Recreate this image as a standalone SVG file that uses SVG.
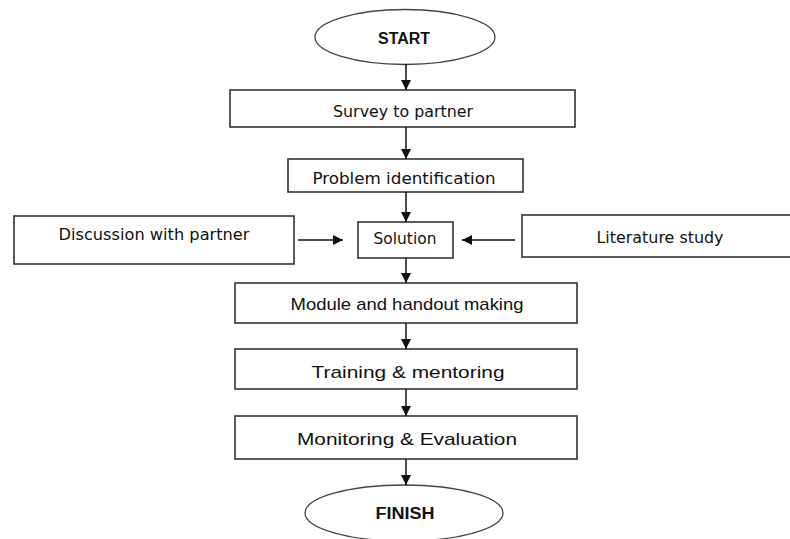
<svg xmlns="http://www.w3.org/2000/svg" width="790" height="539" viewBox="0 0 790 539">
<style>
.box{fill:#fff;stroke:#333;stroke-width:1.6}
.term{fill:#fff;stroke:#444;stroke-width:1.3}
.t1{font-family:"DejaVu Sans Condensed","DejaVu Sans",Verdana,sans-serif;font-size:15px;fill:#111;text-anchor:middle}
.t2{font-family:"Liberation Sans",Arial,sans-serif;font-size:17px;fill:#111;text-anchor:middle}
.tb{font-family:"Liberation Sans",Arial,sans-serif;font-size:16px;font-weight:bold;fill:#111;text-anchor:middle}
.conn{stroke:#111;stroke-width:1.5;fill:none;marker-end:url(#ah)}
</style>
<defs>
<marker id="ah" markerUnits="userSpaceOnUse" markerWidth="12" markerHeight="12" refX="10" refY="5" orient="auto">
<path d="M0,0 L10,5 L0,10 Z" fill="#111"/>
</marker>
</defs>
<rect width="790" height="539" fill="#fff"/>
<g id="start"><ellipse class="term" cx="405" cy="37" rx="90" ry="27.5"/><text class="tb" x="404" y="44" textLength="52" lengthAdjust="spacingAndGlyphs">START</text></g>
<g id="survey"><rect class="box" x="230" y="90" width="345" height="37"/><text class="t1" x="403" y="117" textLength="140" lengthAdjust="spacingAndGlyphs">Survey to partner</text></g>
<g id="problem"><rect class="box" x="288" y="159" width="235" height="33"/><text class="t1" x="404" y="184" textLength="183" lengthAdjust="spacingAndGlyphs">Problem identification</text></g>
<g id="discussion"><rect class="box" x="14" y="216" width="280" height="48"/><text class="t1" x="154" y="240" textLength="191" lengthAdjust="spacingAndGlyphs">Discussion with partner</text></g>
<g id="solution"><rect class="box" x="358" y="222" width="95" height="36"/><text class="t1" x="405" y="244" textLength="63" lengthAdjust="spacingAndGlyphs">Solution</text></g>
<g id="literature"><rect class="box" x="522" y="215" width="272" height="42"/><text class="t1" x="660" y="243" textLength="127" lengthAdjust="spacingAndGlyphs">Literature study</text></g>
<g id="module"><rect class="box" x="235" y="283" width="342" height="40"/><text class="t2" x="407" y="310" textLength="233" lengthAdjust="spacingAndGlyphs">Module and handout making</text></g>
<g id="training"><rect class="box" x="235" y="349" width="342" height="40"/><text class="t2" x="408" y="378" font-size="20" textLength="193" lengthAdjust="spacingAndGlyphs">Training &amp; mentoring</text></g>
<g id="monitoring"><rect class="box" x="235" y="416" width="342" height="43"/><text class="t2" x="407" y="445" font-size="20" textLength="220" lengthAdjust="spacingAndGlyphs">Monitoring &amp; Evaluation</text></g>
<g id="finish"><ellipse class="term" cx="404" cy="513" rx="99" ry="28"/><text class="tb" x="405" y="519" textLength="59" lengthAdjust="spacingAndGlyphs">FINISH</text></g>
<g id="connectors">
<line class="conn" x1="406" y1="64" x2="406" y2="90"/>
<line class="conn" x1="406" y1="127" x2="406" y2="159"/>
<line class="conn" x1="406" y1="192" x2="406" y2="222"/>
<line class="conn" x1="298" y1="240" x2="343" y2="240"/>
<line class="conn" x1="515" y1="240" x2="462" y2="240"/>
<line class="conn" x1="406" y1="258" x2="406" y2="283"/>
<line class="conn" x1="406" y1="323" x2="406" y2="349"/>
<line class="conn" x1="406" y1="389" x2="406" y2="416"/>
<line class="conn" x1="406" y1="459" x2="406" y2="485"/>
</g>
</svg>
